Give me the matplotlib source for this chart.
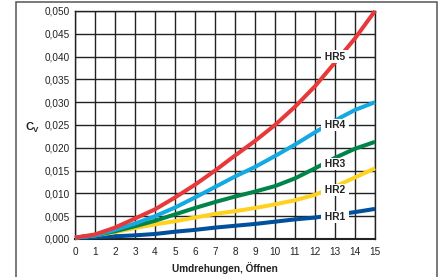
import matplotlib
matplotlib.use("Agg")
import matplotlib.pyplot as plt
from matplotlib.patches import Rectangle

plt.rcParams['font.family'] = ['Liberation Sans', 'DejaVu Sans']

turns = list(range(16))
hr5 = [0.0003, 0.0010, 0.0025, 0.0045, 0.0065, 0.0091, 0.0119, 0.0150,
       0.0183, 0.0215, 0.0250, 0.0290, 0.0335, 0.0387, 0.0440, 0.0500]
hr4 = [0.0003, 0.0008, 0.0020, 0.0034, 0.0050, 0.0069, 0.0091, 0.0114,
       0.0137, 0.0158, 0.0182, 0.0207, 0.0234, 0.0260, 0.0283, 0.0300]
hr3 = [0.0003, 0.0008, 0.0017, 0.0028, 0.0040, 0.0054, 0.0068, 0.0081,
       0.0093, 0.0104, 0.0116, 0.0133, 0.0155, 0.0178, 0.0198, 0.0213]
hr2 = [0.0003, 0.0008, 0.0015, 0.0024, 0.0032, 0.0039, 0.0047, 0.0055,
       0.0061, 0.0068, 0.0076, 0.0085, 0.0097, 0.0115, 0.0135, 0.0155]
hr1 = [0.0002, 0.0004, 0.0006, 0.0008, 0.0011, 0.0016, 0.0020, 0.0025,
       0.0029, 0.0033, 0.0038, 0.0043, 0.0047, 0.0053, 0.0059, 0.0066]

series_names = ['HR1', 'HR2', 'HR3', 'HR4', 'HR5']
series_values = [hr1, hr2, hr3, hr4, hr5]
colors = ['#00509E', '#FFD21F', '#00844A', '#14A9E1', '#E8393A']
label_y = [0.0048, 0.0108, 0.0165, 0.0250, 0.0400]
label_x = 13

yticks = [0.000, 0.005, 0.010, 0.015, 0.020, 0.025, 0.030, 0.035, 0.040, 0.045, 0.050]
ytick_labels = ['0,000', '0,005', '0,010', '0,015', '0,020', '0,025',
                '0,030', '0,035', '0,040', '0,045', '0,050']

W, H = 441, 277
fig = plt.figure(figsize=(W / 100, H / 100), dpi=100)
ax = fig.add_axes([75 / W, 1 - 239 / H, 300 / W, 228 / H])

ax.set_xlim(0, 15)
ax.set_ylim(0, 0.05)
ax.set_xticks(turns)
ax.set_xticklabels([str(t) for t in turns])
ax.set_yticks(yticks)
ax.set_yticklabels(ytick_labels)
ax.tick_params(axis='both', length=0, labelsize=7.2, colors='#222222')
ax.tick_params(axis='y', pad=4)
ax.tick_params(axis='x', pad=6)
ax.grid(True, color='#222222', linewidth=1.0)
ax.set_axisbelow(True)
for s in ax.spines.values():
    s.set_color('#222222')
    s.set_linewidth(1.0)
ax.spines['bottom'].set_linewidth(1.5)

for name, vals, c, ly in zip(series_names, series_values, colors, label_y):
    ax.plot(turns, vals, color=c, linewidth=2.9, solid_capstyle='butt',
            solid_joinstyle='round', zorder=3, clip_on=False)
    ax.text(label_x, ly, ' ' + name + ' ', ha='center', va='center', fontsize=7.4,
            fontweight='bold', color='#222222', zorder=5,
            bbox=dict(boxstyle='square,pad=0.12', facecolor='white', edgecolor='none'))

fig.text(225 / W, 1 - 268.5 / H, 'Umdrehungen, Öffnen', fontsize=7.2,
         fontweight='bold', color='#222222', ha='center', va='center')

fig.text(26 / W, 1 - 127 / H, 'C', fontsize=8, fontweight='bold',
         color='#222222', ha='left', va='center')
fig.text(32.8 / W, 1 - 130 / H, 'V', fontsize=5.8, fontweight='bold',
         color='#222222', ha='left', va='center')

fig.patches.append(Rectangle((16 / W, -0.02), (437 - 16) / W, 1 - 1.5 / H + 0.02,
                             transform=fig.transFigure, fill=False,
                             edgecolor='#555555', linewidth=1.1))

fig.savefig('out.png', dpi=100)
